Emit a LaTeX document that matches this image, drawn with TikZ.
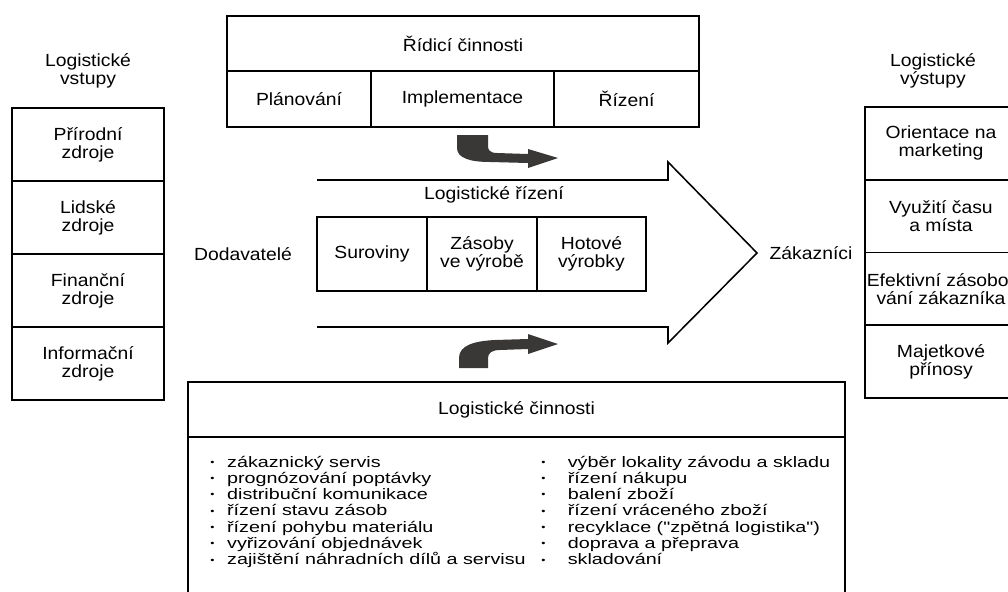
\documentclass[tikz,border=0pt]{standalone}
\usepackage{fontspec}
\usepackage{graphicx}
\setmainfont{Liberation Sans}[FakeStretch=1.1]
\newfontfamily\listfont{Liberation Sans}[FakeStretch=1.3]
\usepackage{tikz}

\definecolor{bendgray}{RGB}{58,55,55}
\newcommand{\lgbul}[1][12pt]{\makebox[#1][l]{\raisebox{0.2ex}{\scalebox{0.6}{\textbullet}}}}

\begin{document}
\begin{tikzpicture}[x=0.025cm, y=-0.025cm,
	box/.style={draw=black, line width=1.1pt, align=center, inner sep=0pt, font=\fontsize{12.5}{12.8}\selectfont},
	lbl/.style={align=center, inner sep=0pt, font=\fontsize{12.5}{12.8}\selectfont},
	item/.style={anchor=base west, inner sep=0pt, font=\listfont\fontsize{10.8}{12}\selectfont}]
	\useasboundingbox (0,0) rectangle (1008,592);
	\clip (0,0) rectangle (1008,592);

	% ridici cinnosti
	\node[box, minimum width=11.8cm, minimum height=1.375cm] (ridici) at (463,43.5) {Řídicí činnosti};
	\node[box, minimum width=3.6cm, minimum height=1.4cm] (planovani) at (299,99) {Plánování};
	\node[box, minimum width=4.575cm, minimum height=1.4cm] (implementace) at (462.5,99) {Implementace};
	\node[box, minimum width=3.625cm, minimum height=1.4cm] (rizeni) at (626.5,99) {Řízení};

	% vstupy
	\node[lbl] (vstupy) at (88,71) {Logistické\\vstupy};
	\node[box, minimum width=3.8cm, minimum height=1.825cm] (prirodni) at (88,144.5) {Přírodní\\zdroje};
	\node[box, minimum width=3.8cm, minimum height=1.825cm] (lidske) at (88,217.5) {Lidské\\zdroje};
	\node[box, minimum width=3.8cm, minimum height=1.825cm] (financni) at (88,290.5) {Finanční\\zdroje};
	\node[box, minimum width=3.8cm, minimum height=1.825cm] (informacni) at (88,363.5) {Informační\\zdroje};

	% vystupy
	\node[lbl] (vystupy) at (933,71) {Logistické\\výstupy};
	\node[box, minimum width=3.8cm, minimum height=1.82cm] (marketing) at (941,143.4) {Orientace na\\marketing};
	\node[box, minimum width=3.8cm, minimum height=1.82cm] (vyuziti) at (941,216.1) {Využití času\\a místa};
	\node[box, minimum width=3.8cm, minimum height=1.82cm] (efektivni) at (941,288.9) {Efektivní zásobo-\\vání zákazníka};
	\node[box, minimum width=3.8cm, minimum height=1.82cm] (majetkove) at (941,361.6) {Majetkové\\přínosy};

	% logisticke rizeni
	\draw[line width=1.1pt, line join=miter] (317,180) -- (668,180) -- (668,162) -- (757,253) -- (668,343) -- (668,327) -- (317,327);
	\node[lbl] (dodavatele) at (243,254) {Dodavatelé};
	\node[lbl] (zakaznici) at (811,253) {Zákazníci};
	\node[lbl] (lgrizeni) at (494,195) {Logistické řízení};
	\node[box, minimum width=2.75cm, minimum height=1.85cm] (suroviny) at (372,254) {Suroviny};
	\node[box, minimum width=2.75cm, minimum height=1.85cm] (zasoby) at (482,254) {Zásoby\\ve výrobě};
	\node[box, minimum width=2.725cm, minimum height=1.85cm] (hotove) at (591.5,254) {Hotové\\výrobky};

	% ohnute sipky
	\fill[bendgray] (457,135) -- (457,148) .. controls (457,158) and (470,162) .. (490,162) -- (528,163) -- (528,168) -- (558,158) -- (528,149) -- (528,154) -- (497,153) .. controls (490,153) and (488,150) .. (488,146) -- (488,135) -- cycle;
	\fill[bendgray] (459,368) -- (459,358) .. controls (459,345) and (475,341) .. (495,340) -- (528,339) -- (528,334) -- (558,344) -- (528,354) -- (528,349) -- (500,350) .. controls (492,350) and (488,353) .. (488,358) -- (488,368) -- cycle;

	% logisticke cinnosti
	\node[box, minimum width=16.425cm, minimum height=1.375cm] (cinnosti) at (516.5,409.5) {Logistické činnosti};
	\node[box, minimum width=16.425cm, minimum height=4.075cm] (cinnostiList) at (516.5,518.5) {};

	\node[item] (l1) at (210,467)   {\lgbul zákaznický servis};
	\node[item] (l2) at (210,483.3) {\lgbul prognózování poptávky};
	\node[item] (l3) at (210,499.6) {\lgbul distribuční komunikace};
	\node[item] (l4) at (210,515.9) {\lgbul řízení stavu zásob};
	\node[item] (l5) at (210,532.2) {\lgbul řízení pohybu materiálu};
	\node[item] (l6) at (210,548.5) {\lgbul vyřizování objednávek};
	\node[item] (l7) at (210,564.8) {\lgbul zajištění náhradních dílů a servisu};

	\node[item] (r1) at (541,467)   {\lgbul[15pt] výběr lokality závodu a skladu};
	\node[item] (r2) at (541,483.3) {\lgbul[15pt] řízení nákupu};
	\node[item] (r3) at (541,499.6) {\lgbul[15pt] balení zboží};
	\node[item] (r4) at (541,515.9) {\lgbul[15pt] řízení vráceného zboží};
	\node[item] (r5) at (541,532.2) {\lgbul[15pt] recyklace ("zpětná logistika")};
	\node[item] (r6) at (541,548.5) {\lgbul[15pt] doprava a přeprava};
	\node[item] (r7) at (541,564.8) {\lgbul[15pt] skladování};

\end{tikzpicture}
\end{document}
